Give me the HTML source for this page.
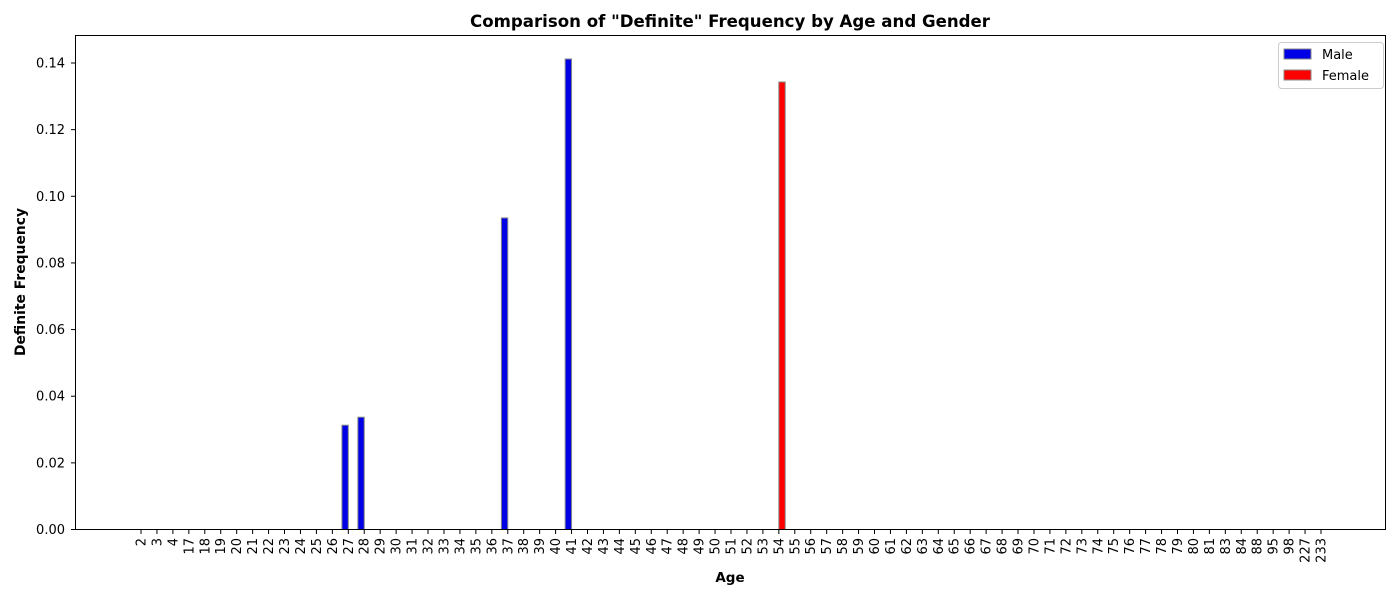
<!DOCTYPE html>
<html><head><meta charset="utf-8"><style>
body{margin:0;background:#fff;font-family:"Liberation Sans","DejaVu Sans",sans-serif}
</style></head><body>
<svg id="c" width="1400" height="600" xmlns="http://www.w3.org/2000/svg" font-family="DejaVu Sans, Liberation Sans, sans-serif">
<rect width="1400" height="600" fill="#fff"/>
<text x="730" y="27" text-anchor="middle" font-size="16.6" font-weight="bold">Comparison of "Definite" Frequency by Age and Gender</text>
<g id="plot"></g>
<rect x="75.5" y="35.5" width="1310" height="494" fill="none" stroke="#000" stroke-width="1"/>
<text x="730" y="582" text-anchor="middle" font-size="13.5" font-weight="bold">Age</text>
<text transform="translate(25,282) rotate(-90)" text-anchor="middle" font-size="13.9" font-weight="bold">Definite Frequency</text>
<g>
<rect x="1278.5" y="42.5" width="105" height="46" rx="3" fill="#fff" stroke="#ccc"/>
<g><rect x="1284" y="49" width="27" height="10" fill="#0000e6" stroke="#888"/><text x="1322" y="59" font-size="13">Male</text></g>
<g><rect x="1284" y="70" width="27" height="10" fill="#ff0000" stroke="#888"/><text x="1322" y="80" font-size="13">Female</text></g>
</g>
</svg>
<script>
const ages=[2,3,4,17,18,19,20,21,22,23,24,25,26,27,28,29,30,31,32,33,34,35,36,37,38,39,40,41,42,43,44,45,46,47,48,49,50,51,52,53,54,55,56,57,58,59,60,61,62,63,64,65,66,67,68,69,70,71,72,73,74,75,76,77,78,79,80,81,83,84,88,95,98,227,233];
const maleAges=[27,28,37,41];
const maleValues=[0.0313,0.0337,0.0935,0.1412];
const femaleAges=[54];
const femaleValues=[0.1343];
const yTicks=[0,0.02,0.04,0.06,0.08,0.10,0.12,0.14];
const yTickLabels=["0.00","0.02","0.04","0.06","0.08","0.10","0.12","0.14"];
const NS="http://www.w3.org/2000/svg";
const g=document.getElementById('plot');
const x0=141,dx=(1321-141)/(ages.length-1),bw=0.4*dx;
function xs(a){return x0+ages.indexOf(a)*dx;}
function ys(v){return 529.5-v*(529.5-63)/0.14;}
function mk(t,at){const e=document.createElementNS(NS,t);for(const k in at)e.setAttribute(k,at[k]);g.appendChild(e);return e;}
yTicks.forEach((v,i)=>{
 const y=ys(v);
 const l=mk('line',{x1:71,x2:75,y1:y,y2:y,stroke:'#000'});
 
 
 const t=mk('text',{x:65,y:y+4.5,'text-anchor':'end','font-size':13});
 t.textContent=yTickLabels[i];
 
 
});
ages.forEach(a=>{
 const x=xs(a);
 const l=mk('line',{x1:x,x2:x,y1:529.5,y2:534,stroke:'#000'});
 
 
 const t=mk('text',{transform:`translate(${x+4.5},538) rotate(-90)`,'text-anchor':'end','font-size':13});
 t.textContent=a;
 
 
});
maleAges.forEach((a,i)=>{
 const x=xs(a),y=ys(maleValues[i]);
 const r=mk('rect',{x:x-bw,y:y,width:bw,height:529.5-y,fill:'#0000e6',stroke:'#888','stroke-width':1});
 
 
});
femaleAges.forEach((a,i)=>{
 const x=xs(a),y=ys(femaleValues[i]);
 const r=mk('rect',{x:x,y:y,width:bw,height:529.5-y,fill:'#ff0000',stroke:'#888','stroke-width':1});
 
 
});
</script>
</body></html>
